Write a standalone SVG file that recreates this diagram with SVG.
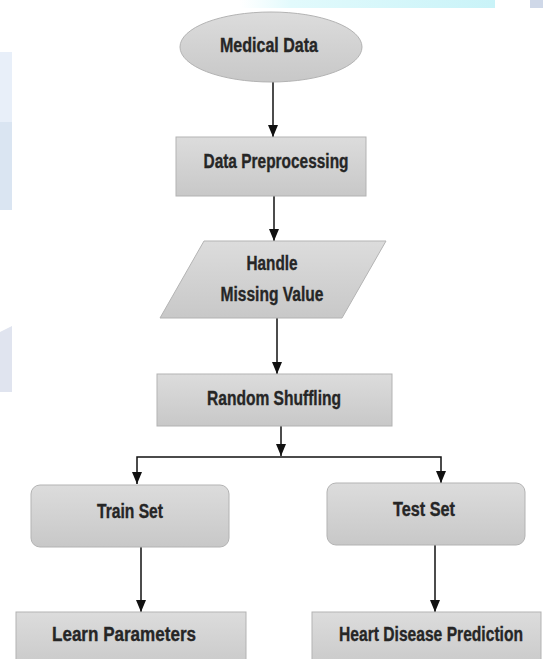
<svg xmlns="http://www.w3.org/2000/svg" width="543" height="659" viewBox="0 0 543 659">
  <style>
    .shape { fill: url(#g); stroke: #b3b3b3; stroke-width: 1; }
    .lbl { font-family: "Liberation Sans", Arial, sans-serif; font-weight: bold; font-size: 20px; fill: #262626; stroke: #262626; stroke-width: 0.35; text-anchor: middle; }
    .conn { fill: none; stroke: #111; stroke-width: 1.5; }
  </style>
  <defs>
    <linearGradient id="g" x1="0" y1="0" x2="0" y2="1">
      <stop offset="0" stop-color="#dcdcdc"/>
      <stop offset="1" stop-color="#c8c8c8"/>
    </linearGradient>
    <linearGradient id="band" x1="0" y1="0" x2="1" y2="0">
      <stop offset="0" stop-color="#e6fbfd" stop-opacity="0"/>
      <stop offset="0.2" stop-color="#e2fafc"/>
      <stop offset="1" stop-color="#c9f3f8"/>
    </linearGradient>
    <marker id="ah" markerUnits="userSpaceOnUse" markerWidth="12" markerHeight="10" refX="12" refY="5" orient="auto">
      <path d="M0,0 L12,5 L0,10 z" fill="#111"/>
    </marker>
  </defs>
  <rect width="543" height="659" fill="#ffffff"/>
  <!-- background page fragments -->
  <rect x="240" y="0" width="255" height="8" fill="url(#band)"/>
  <rect x="530" y="0" width="13" height="8" fill="#cfd8e8"/>
  <rect x="0" y="52" width="12" height="70" fill="#e8eff9"/>
  <rect x="0" y="122" width="12" height="88" fill="#dae5f2"/>
  <path d="M0,332 L12,326 L12,392 L0,392 z" fill="#e0e4ef"/>

  <g id="connectors">
    <path class="conn" d="M273,82 V137" marker-end="url(#ah)"/>
    <path class="conn" d="M274,196 V241" marker-end="url(#ah)"/>
    <path class="conn" d="M277,318 V374" marker-end="url(#ah)"/>
    <path class="conn" d="M281,426 V456" marker-end="url(#ah)"/>
    <path class="conn" d="M281,457 H137 V484" marker-end="url(#ah)"/>
    <path class="conn" d="M281,457 H441 V483" marker-end="url(#ah)"/>
    <path class="conn" d="M141,547 V612" marker-end="url(#ah)"/>
    <path class="conn" d="M435,545 V612" marker-end="url(#ah)"/>
  </g>

  <g id="medical-data">
    <ellipse class="shape" cx="271" cy="47" rx="91" ry="35"/>
    <text class="lbl" x="269" y="52" textLength="98" lengthAdjust="spacingAndGlyphs">Medical Data</text>
  </g>
  <g id="data-preprocessing">
    <rect class="shape" x="176" y="137" width="190" height="59"/>
    <text class="lbl" x="276" y="168" textLength="145" lengthAdjust="spacingAndGlyphs">Data Preprocessing</text>
  </g>
  <g id="handle-missing-value">
    <polygon class="shape" points="204,241 386,241 342,318 160,318"/>
    <text class="lbl" x="272" y="270" textLength="51" lengthAdjust="spacingAndGlyphs">Handle</text>
    <text class="lbl" x="272" y="301" textLength="103" lengthAdjust="spacingAndGlyphs">Missing Value</text>
  </g>
  <g id="random-shuffling">
    <rect class="shape" x="157" y="374" width="235" height="52"/>
    <text class="lbl" x="274" y="405" textLength="134" lengthAdjust="spacingAndGlyphs">Random Shuffling</text>
  </g>
  <g id="train-set">
    <rect class="shape" x="31" y="485" width="198" height="62" rx="9"/>
    <text class="lbl" x="130" y="518" textLength="66" lengthAdjust="spacingAndGlyphs">Train Set</text>
  </g>
  <g id="test-set">
    <rect class="shape" x="327" y="483" width="198" height="62" rx="9"/>
    <text class="lbl" x="424" y="516" textLength="62" lengthAdjust="spacingAndGlyphs">Test Set</text>
  </g>
  <g id="learn-parameters">
    <rect class="shape" x="16" y="612" width="230" height="60"/>
    <text class="lbl" x="124" y="641" textLength="144" lengthAdjust="spacingAndGlyphs">Learn Parameters</text>
  </g>
  <g id="heart-disease-prediction">
    <rect class="shape" x="312" y="612" width="229" height="60"/>
    <text class="lbl" transform="translate(431,641) scale(0.781,1)" x="0" y="0">Heart Disease Prediction</text>
  </g>
</svg>
